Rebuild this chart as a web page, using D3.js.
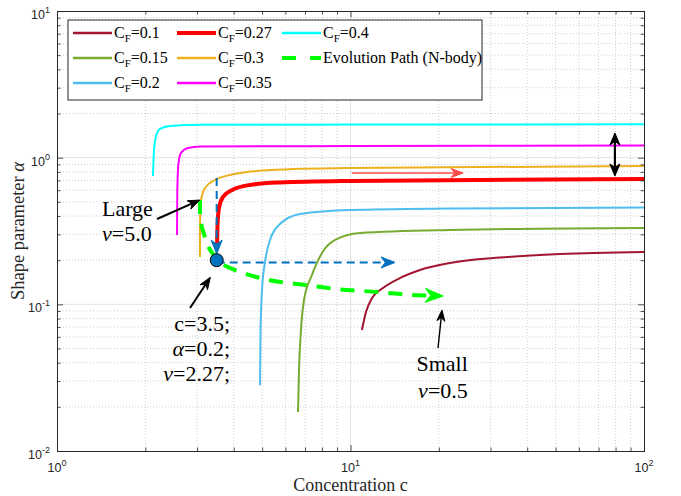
<!DOCTYPE html>
<html>
<head>
<meta charset="utf-8">
<script src="https://cdn.jsdelivr.net/npm/d3@7"></script>
<style>
  body { margin: 0; background: #fff; }
  svg { display: block; }
</style>
</head>
<body>
<svg id="chart" width="681" height="496"></svg>
<script>
// ---- data: shape parameter α against concentration c, one curve per C_F ----
const cf010 = [[10.94,0.0668],[11.29,0.0886],[11.84,0.1104],[12.9,0.1292],[14.52,0.1488],[17.25,0.1714],[21.83,0.1913],[32.3,0.2085],[51.7,0.2203],[100,0.2274]];
const cf015 = [[6.624,0.01842],[6.676,0.0356],[6.781,0.0668],[6.943,0.107],[7.39,0.1585],[7.995,0.2239],[8.857,0.2746],[10.78,0.3065],[21.8,0.3212],[100,0.3315]];
const cf020 = [[4.918,0.0281],[4.937,0.0668],[4.995,0.1252],[5.114,0.1943],[5.318,0.2746],[5.752,0.353],[6.73,0.413],[10,0.44],[21.8,0.45],[100,0.457]];
const cf027 = [[3.51,0.242],[3.523,0.347],[3.564,0.454],[3.679,0.54],[3.95,0.602],[4.55,0.652],[5.75,0.677],[10,0.694],[100,0.716]];
const cf030 = [[3.07,0.21],[3.07,0.347],[3.095,0.515],[3.194,0.621],[3.454,0.705],[3.88,0.762],[5.32,0.824],[10,0.851],[100,0.878]];
const cf035 = [[2.564,0.297],[2.57,0.602],[2.594,0.92],[2.645,1.077],[2.795,1.165],[3.07,1.192],[10,1.2],[100,1.21]];
const cf040 = [[2.123,0.75],[2.141,1.128],[2.175,1.406],[2.244,1.57],[2.427,1.645],[3.07,1.674],[10,1.68],[100,1.69]];

// evolution path from the N-body runs
const evolutionPath = [[3.07,0.515],[3.07,0.407],[3.19,0.288],[3.49,0.207],[4.04,0.171],[4.54,0.158],[5.32,0.146],[7.11,0.135],[9.0,0.127],[12.6,0.121],[15.9,0.116],[20.7,0.114]];

// marked state and the two projection guides
const markedPoint = [3.5, 0.2];
const guideVertical = [[3.5,0.727],[3.5,0.22]];
const guideHorizontal = [[3.5,0.193],[14.18,0.193]];
const trendArrow = [[10.1,0.786],[24.2,0.786]];
const spreadArrow = [[79.6,1.473],[79.6,0.75]];

// annotation pointers
const pointerLarge = [[2.192,0.382],[3.07,0.514]];
const pointerPoint = [[2.84,0.0944],[3.33,0.153]];
const pointerSmall = [[19.87,0.0504],[20.5,0.0915]];

// axis ticks
const xMajor = [1, 10, 100];
const xTickExps = ["0", "1", "2"];
const yMajor = [0.01, 0.1, 1, 10];
const yTickExps = ["-2", "-1", "0", "1"];

const seriesNames = ["0.1", "0.15", "0.2", "0.27", "0.3", "0.35", "0.4"];
const seriesData = [cf010, cf015, cf020, cf027, cf030, cf035, cf040];
const seriesColors = ["#A2142F", "#77AC30", "#4DBEEE", "#FF0000", "#EDB120", "#FF00FF", "#00FFFF"];
const seriesWidths = [2, 2, 2, 4, 2, 2, 2];

(function draw() {
// ---- layout ----
const svg = d3.select("#chart");
const W = 681, H = 496;
const pL = 57, pR = 644, pT = 11, pB = 451;
const serif = "'Liberation Serif','Times New Roman',serif";
const sans = "'Liberation Sans',Arial,Helvetica,sans-serif";
const axisColor = "#262626";

const x = d3.scaleLog().domain([1, 100]).range([pL, pR]);
const y = d3.scaleLog().domain([0.01, 10]).range([pB, pT]);

const minorOf = (majors) => {
  const out = [];
  for (let i = 0; i < majors.length - 1; i++)
    for (let k = 2; k <= 9; k++) out.push(majors[i] * k);
  return out;
};
const xMinor = minorOf(xMajor);
const yMinor = minorOf(yMajor);

svg.append("rect").attr("width", W).attr("height", H).attr("fill", "#fff");

// ---- grid ----
const grid = svg.append("g");
grid.selectAll(".gxm").data(xMinor).join("line")
  .attr("x1", d => x(d)).attr("x2", d => x(d)).attr("y1", pT).attr("y2", pB)
  .attr("stroke", "#cfcfcf").attr("stroke-width", 1).attr("stroke-dasharray", "1,2");
grid.selectAll(".gym").data(yMinor).join("line")
  .attr("y1", d => y(d)).attr("y2", d => y(d)).attr("x1", pL).attr("x2", pR)
  .attr("stroke", "#cfcfcf").attr("stroke-width", 1).attr("stroke-dasharray", "1,2");
grid.selectAll(".gxM").data(xMajor.slice(1, -1)).join("line")
  .attr("x1", d => x(d)).attr("x2", d => x(d)).attr("y1", pT).attr("y2", pB)
  .attr("stroke", "#e2e2e2").attr("stroke-width", 1);
grid.selectAll(".gyM").data(yMajor.slice(1, -1)).join("line")
  .attr("y1", d => y(d)).attr("y2", d => y(d)).attr("x1", pL).attr("x2", pR)
  .attr("stroke", "#e2e2e2").attr("stroke-width", 1);

// ---- curves ----
const line = d3.line().x(d => x(d[0])).y(d => y(d[1])).curve(d3.curveMonotoneX);
const plot = svg.append("g");
seriesData.forEach((data, i) => {
  plot.append("path").datum(data).attr("d", line)
    .attr("fill", "none").attr("stroke", seriesColors[i])
    .attr("stroke-width", seriesWidths[i]).attr("stroke-linejoin", "round");
});

// ---- arrow helper ----
function arrowHead(g, p, angle, len, wid, color) {
  const pts = [[0, 0], [-len, -wid / 2], [-len * 0.7, 0], [-len, wid / 2]];
  const c = Math.cos(angle), s = Math.sin(angle);
  const d = "M" + pts.map(q => [p[0] + q[0] * c - q[1] * s, p[1] + q[0] * s + q[1] * c].join(",")).join("L") + "Z";
  g.append("path").attr("d", d).attr("fill", color).attr("stroke", color).attr("stroke-width", 1).attr("stroke-linejoin", "miter");
}
function arrow(g, pts, opt) {
  const P = pts.map(d => [x(d[0]), y(d[1])]);
  const a = P[P.length - 2], b = P[P.length - 1];
  const ang = Math.atan2(b[1] - a[1], b[0] - a[0]);
  const endPt = [b[0] - Math.cos(ang) * opt.len * 0.7, b[1] - Math.sin(ang) * opt.len * 0.7];
  let startPt = P[0];
  if (opt.both) {
    const ang0 = Math.atan2(P[0][1] - P[1][1], P[0][0] - P[1][0]);
    startPt = [P[0][0] - Math.cos(ang0) * opt.len * 0.7, P[0][1] - Math.sin(ang0) * opt.len * 0.7];
    arrowHead(g, P[0], ang0, opt.len, opt.wid, opt.color);
  }
  const linePts = [startPt].concat(P.slice(1, -1), [endPt]);
  g.append("path").attr("d", d3.line().curve(opt.curve || d3.curveLinear)(linePts))
    .attr("fill", "none").attr("stroke", opt.color).attr("stroke-width", opt.width)
    .attr("stroke-dasharray", opt.dash || null);
  arrowHead(g, b, ang, opt.len, opt.wid, opt.color);
}

const notes = svg.append("g");
// evolution path
arrow(notes, evolutionPath, { color: "#00FF00", width: 4, dash: "14,10", len: 18, wid: 14, curve: d3.curveMonotoneX });
// guides to the marked state
arrow(notes, guideVertical, { color: "#0072BD", width: 2, dash: "8,5", len: 14, wid: 11 });
arrow(notes, guideHorizontal, { color: "#0072BD", width: 2, dash: "8,5", len: 14, wid: 11 });
// trend of the red curve
arrow(notes, trendArrow, { color: "#FF4D4D", width: 1.3, len: 12, wid: 9 });
// spread between curves
arrow(notes, spreadArrow, { color: "#000", width: 2.2, len: 12, wid: 10, both: true });

notes.append("circle").attr("cx", x(markedPoint[0])).attr("cy", y(markedPoint[1]))
  .attr("r", 6.5).attr("fill", "#0072BD").attr("stroke", "#000").attr("stroke-width", 1);

arrow(notes, pointerLarge, { color: "#000", width: 2, len: 12, wid: 9 });
arrow(notes, pointerPoint, { color: "#000", width: 2, len: 12, wid: 9 });
arrow(notes, pointerSmall, { color: "#000", width: 1.4, len: 11, wid: 8 });

// ---- annotation text ----
function note(c, a, anchor, parts) {
  const t = notes.append("text").attr("x", x(c)).attr("y", y(a))
    .attr("text-anchor", anchor).attr("font-family", serif).attr("font-size", 22).attr("fill", "#000");
  parts.forEach(p => t.append("tspan").attr("font-style", p[1] ? "italic" : null).text(p[0]));
}
note(1.423, 0.4002, "start", [["Large"]]);
note(1.423, 0.270, "start", [["ν", true], ["=5.0"]]);
note(3.886, 0.0658, "end", [["c=3.5;"]]);
note(3.886, 0.0444, "end", [["α", true], ["=0.2;"]]);
note(3.886, 0.030, "end", [["ν", true], ["=2.27;"]]);
note(25.1, 0.0351, "end", [["Small"]]);
note(25.1, 0.0230, "end", [["ν", true], ["=0.5"]]);

// ---- axes (ticks point inward on all four sides) ----
const axes = svg.append("g").attr("color", axisColor);
function addAxis(gen, tx, ty, vals, size) {
  const g = axes.append("g").attr("transform", `translate(${tx},${ty})`)
    .call(gen.tickValues(vals).tickSize(size).tickFormat(""));
  g.select(".domain").attr("stroke", axisColor).attr("stroke-width", 1);
  g.selectAll(".tick line").attr("stroke", axisColor).attr("stroke-width", 0.8);
  g.selectAll(".tick text").remove();
  return g;
}
addAxis(d3.axisBottom(x), 0, pB, xMajor, -6);
addAxis(d3.axisBottom(x), 0, pB, xMinor, -3.5);
addAxis(d3.axisTop(x), 0, pT, xMajor, -6);
addAxis(d3.axisTop(x), 0, pT, xMinor, -3.5);
addAxis(d3.axisLeft(y), pL, 0, yMajor, -6);
addAxis(d3.axisLeft(y), pL, 0, yMinor, -3.5);
addAxis(d3.axisRight(y), pR, 0, yMajor, -6);
addAxis(d3.axisRight(y), pR, 0, yMinor, -3.5);

// tick labels as powers of ten
xMajor.forEach((v, i) => {
  const t = axes.append("text").attr("x", x(v)).attr("y", 471.5).attr("text-anchor", "middle")
    .attr("font-family", sans).attr("font-size", 12.5).attr("fill", axisColor);
  t.append("tspan").text("10");
  t.append("tspan").attr("dy", -6).attr("font-size", 9).text(xTickExps[i]);
});
yMajor.forEach((v, i) => {
  const t = axes.append("text").attr("x", 50).attr("y", y(v) + 8).attr("text-anchor", "end")
    .attr("font-family", sans).attr("font-size", 12.5).attr("fill", axisColor);
  t.append("tspan").text("10");
  t.append("tspan").attr("dy", -6).attr("font-size", 9).text(yTickExps[i]);
});

// axis titles
svg.append("text").attr("x", (pL + pR) / 2).attr("y", 491).attr("text-anchor", "middle")
  .attr("font-family", serif).attr("font-size", 18).attr("fill", axisColor).text("Concentration c");
const yt = svg.append("text").attr("transform", `translate(24,${(pT + pB) / 2}) rotate(-90)`)
  .attr("text-anchor", "middle").attr("font-family", serif).attr("font-size", 18.5).attr("fill", axisColor);
yt.append("tspan").text("Shape parameter ");
yt.append("tspan").attr("font-style", "italic").text("α");

// ---- legend ----
const legend = svg.append("g");
legend.append("rect").attr("x", 68).attr("y", 20).attr("width", 414).attr("height", 80)
  .attr("fill", "#fff").attr("stroke", axisColor).attr("stroke-width", 1);
const colX = [73, 177, 282];
const rowY = [33, 58, 83];
const legendItems = seriesNames.map((n, i) => ({ name: n, color: seriesColors[i], width: seriesWidths[i] === 4 ? 4 : 2.5 }));
legendItems.push({ name: null, color: "#00FF00", width: 4, dash: "14,14" });
legendItems.forEach((it, i) => {
  const col = Math.floor(i / 3), row = i % 3;
  const lx = colX[col], ly = rowY[row];
  legend.append("line").attr("x1", lx).attr("x2", lx + 39).attr("y1", ly).attr("y2", ly)
    .attr("stroke", it.color).attr("stroke-width", it.width)
    .attr("stroke-dasharray", it.dash || null);
  const t = legend.append("text").attr("x", lx + 41).attr("y", ly + 5)
    .attr("font-family", serif).attr("font-size", 16).attr("fill", "#000");
  if (it.name) {
    t.append("tspan").text("C");
    t.append("tspan").attr("dy", 4).attr("font-size", 11).text("F");
    t.append("tspan").attr("dy", -4).text("=" + it.name);
  } else {
    t.text("Evolution Path (N-body)");
  }
});
})();
</script>
</body>
</html>
